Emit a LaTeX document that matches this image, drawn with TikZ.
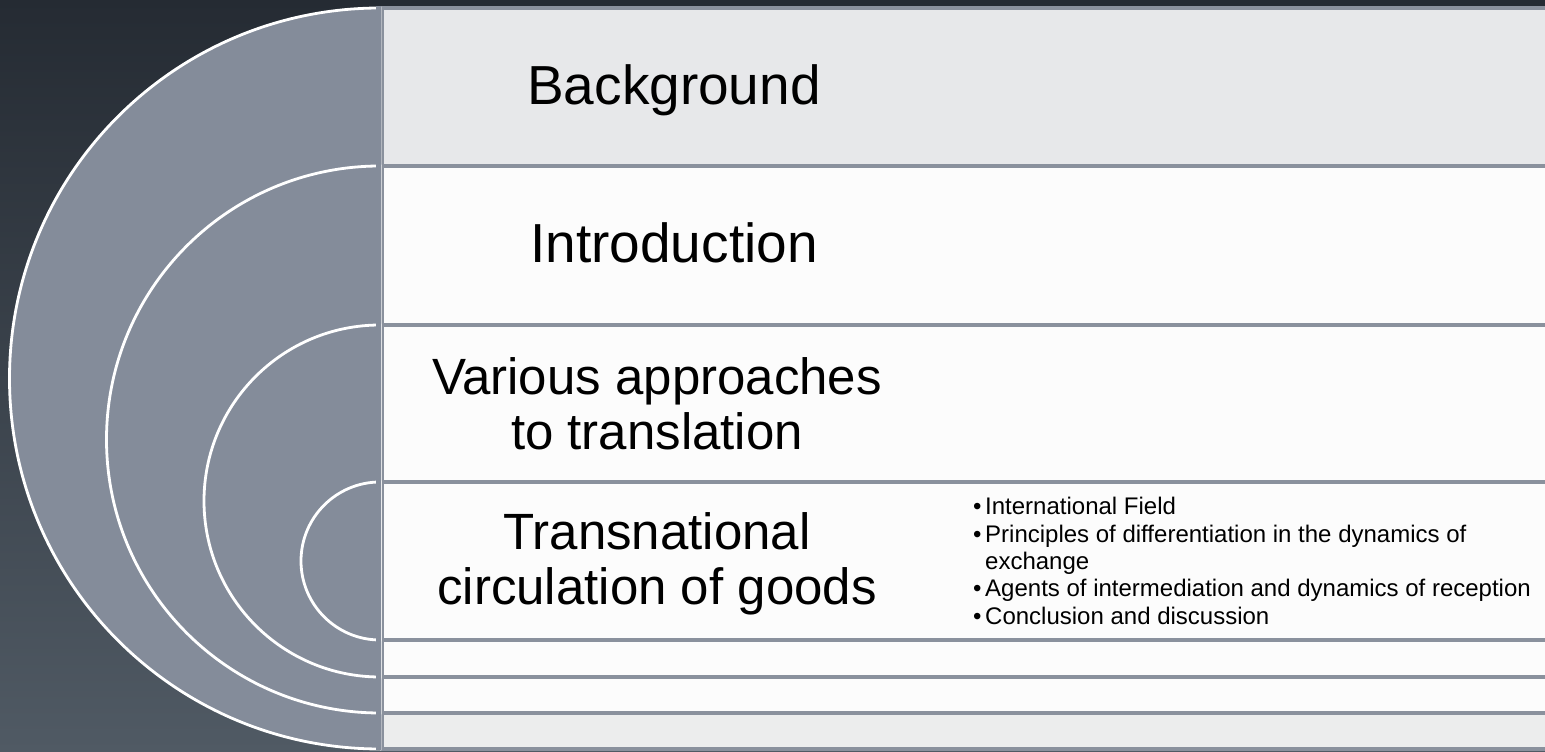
\documentclass[tikz,border=0pt]{standalone}
\usepackage{fontspec}
\setmainfont{Liberation Sans}
\definecolor{bgtop}{HTML}{252B33}
\definecolor{bgmid}{HTML}{2D343C}
\definecolor{bgbot}{HTML}{505A64}
\definecolor{ringgray}{HTML}{848C9A}
\definecolor{rowline}{HTML}{8A919D}
\definecolor{rowgray}{HTML}{E7E8EA}
\definecolor{rowwhite}{HTML}{FCFCFC}
\definecolor{rowlow}{HTML}{ECEDED}
\tikzset{
  ringshape/.style={fill=ringgray, draw=white, line width=2.8pt},
  rowbox/.style={draw=rowline, line width=3.5pt},
  bigtext/.style={anchor=base, inner sep=0pt, text=black},
}
\begin{document}
\begin{tikzpicture}[x=1pt,y=1pt]
\useasboundingbox (0,0) rectangle (1545,752);
\clip (0,0) rectangle (1545,752);
\shade[top color=bgtop, middle color=bgmid, bottom color=bgbot] (0,0) rectangle (1545,752);
% rows
\draw[rowbox, fill=rowlow]   (382,39)  rectangle (1570,3);
\draw[rowbox, fill=rowwhite] (382,75)  rectangle (1570,39);
\draw[rowbox, fill=rowwhite] (382,112) rectangle (1570,75);
\draw[rowbox, fill=rowwhite] (382,270) rectangle (1570,112);
\draw[rowbox, fill=rowwhite] (382,427) rectangle (1570,270);
\draw[rowbox, fill=rowwhite] (382,586) rectangle (1570,427);
\draw[rowbox, fill=rowgray]  (382,744) rectangle (1570,586);
% nested semicircles
\filldraw[ringshape] (380,744) arc[start angle=90, end angle=270, radius=370.5] -- cycle;
\filldraw[ringshape] (380,586) arc[start angle=90, end angle=270, radius=273.5] -- cycle;
\filldraw[ringshape] (380,427) arc[start angle=90, end angle=270, radius=176] -- cycle;
\filldraw[ringshape] (380,270) arc[start angle=90, end angle=270, radius=79] -- cycle;
\fill[ringgray] (376,2) rectangle (380.6,745.5);
% texts
\node[bigtext, font=\fontsize{55}{60}\selectfont] (bg) at (674,647) {Background};
\node[bigtext, font=\fontsize{55}{60}\selectfont] (intro) at (674,489) {Introduction};
\node[bigtext, font=\fontsize{51}{55}\selectfont] (various) at (657,357)
  {\begin{tabular}[t]{@{}c@{}}Various approaches\\to translation\end{tabular}};
\node[bigtext, font=\fontsize{51}{55}\selectfont] (trans) at (657,202)
  {\begin{tabular}[t]{@{}c@{}}Transnational\\circulation of goods\end{tabular}};
\node[anchor=base west, inner sep=0pt, font=\fontsize{24}{27.3}\selectfont] (items) at (973,237)
  {\begin{tabular}[t]{@{}l@{\hspace{3.6pt}}l@{}}
  \textbullet & International Field\\
  \textbullet & Principles of differentiation in the dynamics of\\
   & exchange\\
  \textbullet & Agents of intermediation and dynamics of reception\\
  \textbullet & Conclusion and discussion
  \end{tabular}};
\end{tikzpicture}
\end{document}
